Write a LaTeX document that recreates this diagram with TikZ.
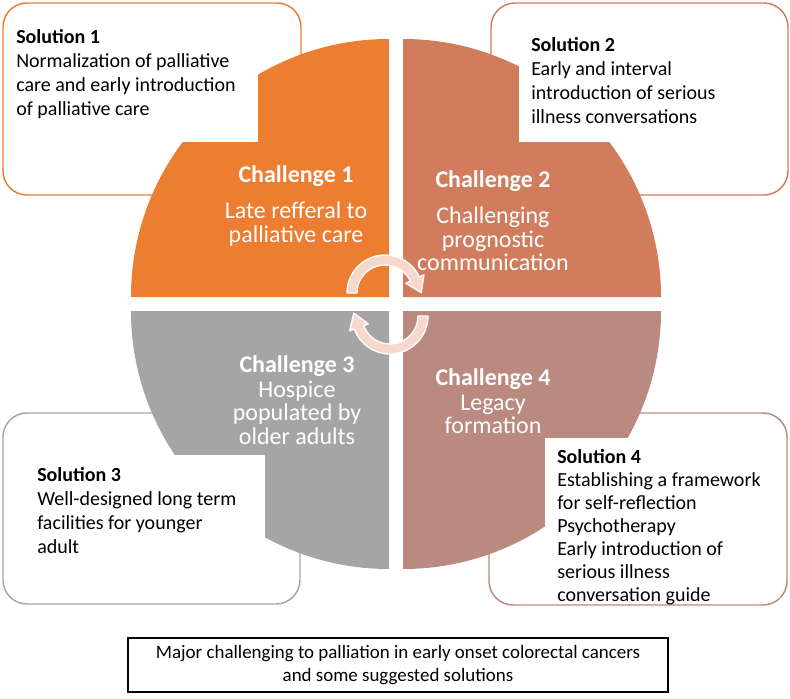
\documentclass[tikz,border=0pt]{standalone}
\usepackage{fontspec}
\setmainfont{Carlito}
\usepackage{tikz}
\usetikzlibrary{calc}
\definecolor{flame}{RGB}{237,125,49}
\definecolor{clay}{RGB}{210,124,94}
\definecolor{ash}{RGB}{165,165,165}
\definecolor{rosewood}{RGB}{186,137,128}
\definecolor{blush}{RGB}{248,216,205}

\begin{document}
\begin{tikzpicture}[x=0.75pt, y=0.75pt,
  box/.style={line width=1.1pt, rounded corners=18pt, fill=white},
  sol/.style={anchor=north west, align=left, inner sep=0pt, font=\fontsize{15}{18}\selectfont},
  ch/.style={anchor=north, align=center, inner sep=0pt, text=white, font=\fontsize{18}{17.5}\selectfont},
  turn/.style={fill=blush, draw=white, line width=1pt, line join=round}]
\useasboundingbox (0,0) rectangle (790,-699);
\draw[box, draw=flame] (3,-3) rectangle (301,-195);
\draw[box, draw=clay] (491,-3) rectangle (788,-195);
\draw[box, draw=ash] (3,-413) rectangle (300,-604);
\draw[box, draw=rosewood] (489,-413) rectangle (787,-605);
\fill[flame] (389,-297) -- ++(0,258) arc (90:180:258) -- cycle;
\fill[clay] (403,-297) -- ++(258,0) arc (0:90:258) -- cycle;
\fill[ash] (389,-311) -- ++(-258,0) arc (180:270:258) -- cycle;
\fill[rosewood] (403,-311) -- ++(0,-258) arc (270:360:258) -- cycle;
\fill[white] (10,-20) rectangle (258,-142);
\fill[white] (519,-25) rectangle (780,-142);
\fill[white] (25,-455) rectangle (265,-585);
\fill[white] (545,-438) rectangle (780,-598);
\coordinate (t) at (385,-293);
\coordinate (b) at (390,-316);
\draw[turn] ($(t)+(180:38)$) arc (180:25:38) -- ($(t)+(25:43)$) -- ($(t)+(25:33)+(-65:15)$)
  -- ($(t)+(25:23)$) -- ($(t)+(25:28)$) arc (25:180:28) -- cycle;
\draw[turn] ($(b)+(0:38)$) arc (0:-160:38) -- ($(b)+(-160:43)$) -- ($(b)+(-160:33)+(110:15)$)
  -- ($(b)+(-160:23)$) -- ($(b)+(-160:28)$) arc (-160:0:28) -- cycle;
\node[sol] (s1) at (16,-29) {\textbf{Solution 1}\\Normalization of palliative\\care and early introduction\\of palliative care};
\node[sol] (s2) at (531,-37) {\textbf{Solution 2}\\Early and interval\\introduction of serious\\illness conversations};
\node[sol] (s3) at (37,-467) {\textbf{Solution 3}\\Well-designed long term\\facilities for younger\\adult};
\node[sol, font=\fontsize{15}{17.3}\selectfont] (s4) at (557,-449) {\textbf{Solution 4}\\Establishing a framework\\for self-reflection\\Psychotherapy\\Early introduction of\\serious illness\\conversation guide};
\node[ch] (c1) at (296,-165) {\textbf{Challenge 1}\\[10pt]Late refferal to\\palliative care};
\node[ch] (c2) at (493,-170) {\textbf{Challenge 2}\\[10pt]Challenging\\prognostic\\communication};
\node[ch] (c3) at (297,-355) {\textbf{Challenge 3}\\[1.5pt]Hospice\\populated by\\older adults};
\node[ch] (c4) at (493,-368) {\textbf{Challenge 4}\\[1.5pt]Legacy\\formation};
\node[draw, line width=0.8pt, minimum width=405pt, minimum height=40.5pt, align=center,
  font=\fontsize{14.2}{17.3}\selectfont] (cap) at (398,-665) {Major challenging to palliation in early onset colorectal cancers\\and some suggested solutions};
\end{tikzpicture}
\end{document}
